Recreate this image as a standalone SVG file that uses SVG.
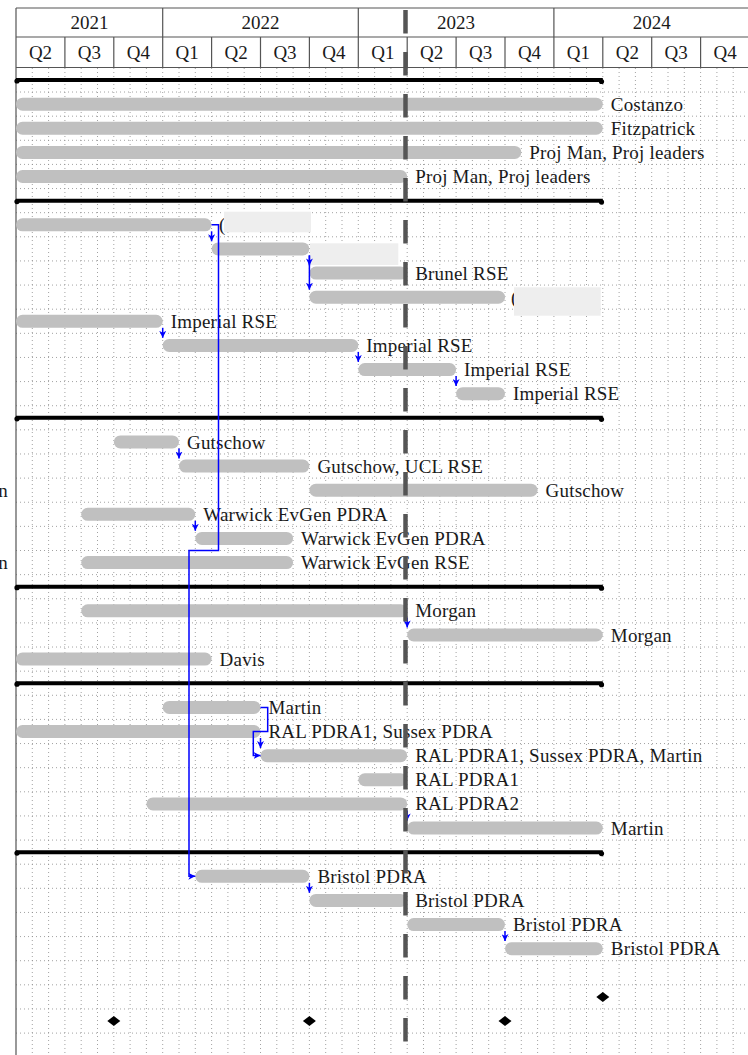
<svg xmlns="http://www.w3.org/2000/svg" width="748" height="1055" viewBox="0 0 748 1055">
<defs>
<style>
.grid{stroke:#8a8a8a;stroke-width:0.8;stroke-dasharray:1 3;fill:none}
.hdr{stroke:#555;stroke-width:1.2;fill:none}
.ht{font-family:'Liberation Serif','DejaVu Serif',serif;font-size:19px;fill:#1a1a1a;text-anchor:middle}
.bar{fill:#c0c0c0}
.lbl{font-family:'Liberation Serif','DejaVu Serif',serif;font-size:19px;fill:#1a1a1a;letter-spacing:0.2px}
.red{fill:#eeeeee}
.grp{stroke:#000;stroke-width:4;fill:none}
.lnk{stroke:#0000ff;stroke-width:1.5;fill:none;marker-end:url(#ah)}
.ms{fill:#000}
</style>
<marker id="ah" markerWidth="8" markerHeight="7" refX="7" refY="3.5" orient="auto" markerUnits="userSpaceOnUse"><path d="M0,0 L7,3.5 L0,7 L2,3.5 z" fill="#0000ff"/></marker>
</defs>
<rect width="748" height="1055" fill="#fff"/>
<g id="grid">
<path class="grid" d="M32.3,68V1055M48.6,68V1055M64.9,68V1055M81.2,68V1055M97.5,68V1055M113.8,68V1055M130.1,68V1055M146.4,68V1055M162.7,68V1055M179,68V1055M195.3,68V1055M211.6,68V1055M227.9,68V1055M244.2,68V1055M260.5,68V1055M276.8,68V1055M293.1,68V1055M309.4,68V1055M325.7,68V1055M342,68V1055M358.3,68V1055M374.6,68V1055M390.9,68V1055M407.2,68V1055M423.5,68V1055M439.8,68V1055M456.1,68V1055M472.4,68V1055M488.7,68V1055M505,68V1055M521.3,68V1055M537.6,68V1055M553.9,68V1055M570.2,68V1055M586.5,68V1055M602.8,68V1055M619.1,68V1055M635.4,68V1055M651.7,68V1055M668,68V1055M684.3,68V1055M700.6,68V1055M716.9,68V1055M733.2,68V1055"/>
<path class="grid" d="M16,92.03H748M16,116.16H748M16,140.29H748M16,164.42H748M16,188.55H748M16,212.68H748M16,236.81H748M16,260.94H748M16,285.07H748M16,309.2H748M16,333.33H748M16,357.46H748M16,381.59H748M16,405.72H748M16,429.85H748M16,453.98H748M16,478.11H748M16,502.24H748M16,526.37H748M16,550.5H748M16,574.63H748M16,598.76H748M16,622.89H748M16,647.02H748M16,671.15H748M16,695.28H748M16,719.41H748M16,743.54H748M16,767.67H748M16,791.8H748M16,815.93H748M16,840.06H748M16,864.19H748M16,888.32H748M16,912.45H748M16,936.58H748M16,960.71H748M16,984.84H748M16,1008.97H748M16,1033.1H748"/>
</g>
<g id="header" font-family="'Liberation Serif', 'DejaVu Serif', serif">
<path class="hdr" d="M16,8H748M16,37H748M16,67.5H748M16,8V1055M162.7,8V67.5M358.3,8V67.5M553.9,8V67.5M64.9,37V67.5M113.8,37V67.5M211.6,37V67.5M260.5,37V67.5M309.4,37V67.5M407.2,37V67.5M456.1,37V67.5M505,37V67.5M602.8,37V67.5M651.7,37V67.5M700.6,37V67.5"/>
<text class="ht" x="89.4" y="29">2021</text>
<text class="ht" x="260.5" y="29">2022</text>
<text class="ht" x="456.1" y="29">2023</text>
<text class="ht" x="651.7" y="29">2024</text>
<text class="ht" x="40.5" y="59">Q2</text>
<text class="ht" x="89.4" y="59">Q3</text>
<text class="ht" x="138.3" y="59">Q4</text>
<text class="ht" x="187.2" y="59">Q1</text>
<text class="ht" x="236.1" y="59">Q2</text>
<text class="ht" x="285" y="59">Q3</text>
<text class="ht" x="333.9" y="59">Q4</text>
<text class="ht" x="382.8" y="59">Q1</text>
<text class="ht" x="431.7" y="59">Q2</text>
<text class="ht" x="480.6" y="59">Q3</text>
<text class="ht" x="529.5" y="59">Q4</text>
<text class="ht" x="578.4" y="59">Q1</text>
<text class="ht" x="627.3" y="59">Q2</text>
<text class="ht" x="676.2" y="59">Q3</text>
<text class="ht" x="725.1" y="59">Q4</text>
</g>
<g id="side-labels" font-family="'Liberation Serif', 'DejaVu Serif', serif">
<text class="lbl" x="8" y="496.7" text-anchor="end">n</text>
<text class="lbl" x="8" y="569.1" text-anchor="end">n</text>
</g>
<g id="groups">
<g id="group1"><path class="grp" d="M16,80H602.8"/><circle cx="17" cy="81" r="2.6"/><circle cx="601.5" cy="81.5" r="2.6"/></g>
<g id="group2"><path class="grp" d="M16,200.65H602.8"/><circle cx="17" cy="201.6" r="2.6"/><circle cx="601.5" cy="202.1" r="2.6"/></g>
<g id="group3"><path class="grp" d="M16,417.82H602.8"/><circle cx="17" cy="418.8" r="2.6"/><circle cx="601.5" cy="419.3" r="2.6"/></g>
<g id="group4"><path class="grp" d="M16,586.73H602.8"/><circle cx="17" cy="587.7" r="2.6"/><circle cx="601.5" cy="588.2" r="2.6"/></g>
<g id="group5"><path class="grp" d="M16,683.25H602.8"/><circle cx="17" cy="684.2" r="2.6"/><circle cx="601.5" cy="684.7" r="2.6"/></g>
<g id="group6"><path class="grp" d="M16,852.16H602.8"/><circle cx="17" cy="853.1" r="2.6"/><circle cx="601.5" cy="853.6" r="2.6"/></g>
</g>
<g id="tasks" font-family="'Liberation Serif', 'DejaVu Serif', serif">
<g id="t1"><rect class="bar" x="16" y="97.63" width="586.8" height="13" rx="6.5"/><text class="lbl" x="610.8" y="110.6">Costanzo</text></g>
<g id="t2"><rect class="bar" x="16" y="121.76" width="586.8" height="13" rx="6.5"/><text class="lbl" x="610.8" y="134.8">Fitzpatrick</text></g>
<g id="t3"><rect class="bar" x="16" y="145.89" width="505.3" height="13" rx="6.5"/><text class="lbl" x="529.3" y="158.9">Proj Man, Proj leaders</text></g>
<g id="t4"><rect class="bar" x="16" y="170.02" width="391.2" height="13" rx="6.5"/><text class="lbl" x="415.2" y="183">Proj Man, Proj leaders</text></g>
<g id="t6"><rect class="bar" x="16" y="218.28" width="195.6" height="13" rx="6.5"/><text class="lbl" x="219" y="231.3">(</text><rect class="red" x="224" y="211.7" width="87" height="20.6"/></g>
<g id="t7"><rect class="bar" x="211.6" y="242.41" width="97.8" height="13" rx="6.5"/><rect class="red" x="310" y="243.3" width="88.3" height="21.7"/></g>
<g id="t8"><rect class="bar" x="309.4" y="266.54" width="97.8" height="13" rx="6.5"/><text class="lbl" x="415.2" y="279.5">Brunel RSE</text></g>
<g id="t9"><rect class="bar" x="309.4" y="290.67" width="195.6" height="13" rx="6.5"/><text class="lbl" x="511" y="303.7">(</text><rect class="red" x="514" y="287.3" width="86.7" height="28.4"/></g>
<g id="t10"><rect class="bar" x="16" y="314.8" width="146.7" height="13" rx="6.5"/><text class="lbl" x="170.7" y="327.8">Imperial RSE</text></g>
<g id="t11"><rect class="bar" x="162.7" y="338.93" width="195.6" height="13" rx="6.5"/><text class="lbl" x="366.3" y="351.9">Imperial RSE</text></g>
<g id="t12"><rect class="bar" x="358.3" y="363.06" width="97.8" height="13" rx="6.5"/><text class="lbl" x="464.1" y="376.1">Imperial RSE</text></g>
<g id="t13"><rect class="bar" x="456.1" y="387.19" width="48.9" height="13" rx="6.5"/><text class="lbl" x="513" y="400.2">Imperial RSE</text></g>
<g id="t15"><rect class="bar" x="113.8" y="435.45" width="65.2" height="13" rx="6.5"/><text class="lbl" x="187" y="448.5">Gutschow</text></g>
<g id="t16"><rect class="bar" x="179" y="459.58" width="130.4" height="13" rx="6.5"/><text class="lbl" x="317.4" y="472.6">Gutschow, UCL RSE</text></g>
<g id="t17"><rect class="bar" x="309.4" y="483.71" width="228.2" height="13" rx="6.5"/><text class="lbl" x="545.6" y="496.7">Gutschow</text></g>
<g id="t18"><rect class="bar" x="81.2" y="507.84" width="114.1" height="13" rx="6.5"/><text class="lbl" x="203.3" y="520.8">Warwick EvGen PDRA</text></g>
<g id="t19"><rect class="bar" x="195.3" y="531.97" width="97.8" height="13" rx="6.5"/><text class="lbl" x="301.1" y="545">Warwick EvGen PDRA</text></g>
<g id="t20"><rect class="bar" x="81.2" y="556.1" width="211.9" height="13" rx="6.5"/><text class="lbl" x="301.1" y="569.1">Warwick EvGen RSE</text></g>
<g id="t22"><rect class="bar" x="81.2" y="604.36" width="326" height="13" rx="6.5"/><text class="lbl" x="415.2" y="617.4">Morgan</text></g>
<g id="t23"><rect class="bar" x="407.2" y="628.49" width="195.6" height="13" rx="6.5"/><text class="lbl" x="610.8" y="641.5">Morgan</text></g>
<g id="t24"><rect class="bar" x="16" y="652.62" width="195.6" height="13" rx="6.5"/><text class="lbl" x="219.6" y="665.6">Davis</text></g>
<g id="t26"><rect class="bar" x="162.7" y="700.88" width="97.8" height="13" rx="6.5"/><text class="lbl" x="268.5" y="713.9">Martin</text></g>
<g id="t27"><rect class="bar" x="16" y="725.01" width="244.5" height="13" rx="6.5"/><text class="lbl" x="268.5" y="738">RAL PDRA1, Sussex PDRA</text></g>
<g id="t28"><rect class="bar" x="260.5" y="749.14" width="146.7" height="13" rx="6.5"/><text class="lbl" x="415.2" y="762.1">RAL PDRA1, Sussex PDRA, Martin</text></g>
<g id="t29"><rect class="bar" x="358.3" y="773.27" width="48.9" height="13" rx="6.5"/><text class="lbl" x="415.2" y="786.3">RAL PDRA1</text></g>
<g id="t30"><rect class="bar" x="146.4" y="797.4" width="260.8" height="13" rx="6.5"/><text class="lbl" x="415.2" y="810.4">RAL PDRA2</text></g>
<g id="t31"><rect class="bar" x="407.2" y="821.53" width="195.6" height="13" rx="6.5"/><text class="lbl" x="610.8" y="834.5">Martin</text></g>
<g id="t33"><rect class="bar" x="195.3" y="869.79" width="114.1" height="13" rx="6.5"/><text class="lbl" x="317.4" y="882.8">Bristol PDRA</text></g>
<g id="t34"><rect class="bar" x="309.4" y="893.92" width="97.8" height="13" rx="6.5"/><text class="lbl" x="415.2" y="906.9">Bristol PDRA</text></g>
<g id="t35"><rect class="bar" x="407.2" y="918.05" width="97.8" height="13" rx="6.5"/><text class="lbl" x="513" y="931.1">Bristol PDRA</text></g>
<g id="t36"><rect class="bar" x="505" y="942.18" width="97.8" height="13" rx="6.5"/><text class="lbl" x="610.8" y="955.2">Bristol PDRA</text></g>
</g>
<g id="connectors">
<path class="lnk" d="M211.6,231.3V241.3"/>
<path class="lnk" d="M211.6,224.8H218.5V550.5H189V876.3H195.3"/>
<path class="lnk" d="M309.4,255.4V265.4"/>
<path class="lnk" d="M309.4,255.4V289.7"/>
<path class="lnk" d="M162.7,327.8V337.8"/>
<path class="lnk" d="M358.3,351.9V361.9"/>
<path class="lnk" d="M456.1,376.1V386.1"/>
<path class="lnk" d="M179,448.5V458.5"/>
<path class="lnk" d="M195.3,520.8V530.8"/>
<path class="lnk" d="M407.2,617.4V627.4"/>
<path class="lnk" d="M260.5,707.4H267.7V731.5H253.3V755.6H260.5"/>
<path class="lnk" d="M260.5,738V748"/>
<path class="lnk" d="M407.2,810.4V820.4"/>
<path class="lnk" d="M309.4,882.8V892.8"/>
<path class="lnk" d="M505,931.1V941.1"/>
</g>
<g id="today">
<line x1="405.5" y1="10" x2="405.5" y2="1055" stroke="#555" stroke-width="4.5" stroke-dasharray="23.5 18.5"/>
</g>
<g id="milestones">
<polygon id="m1" class="ms" points="596.3,996.9 602.8,991.9 609.3,996.9 602.8,1001.9"/>
<polygon id="m2" class="ms" points="107.3,1021.1 113.8,1016.1 120.3,1021.1 113.8,1026.1"/>
<polygon id="m3" class="ms" points="302.9,1021.1 309.4,1016.1 315.9,1021.1 309.4,1026.1"/>
<polygon id="m4" class="ms" points="498.5,1021.1 505,1016.1 511.5,1021.1 505,1026.1"/>
</g>
</svg>
